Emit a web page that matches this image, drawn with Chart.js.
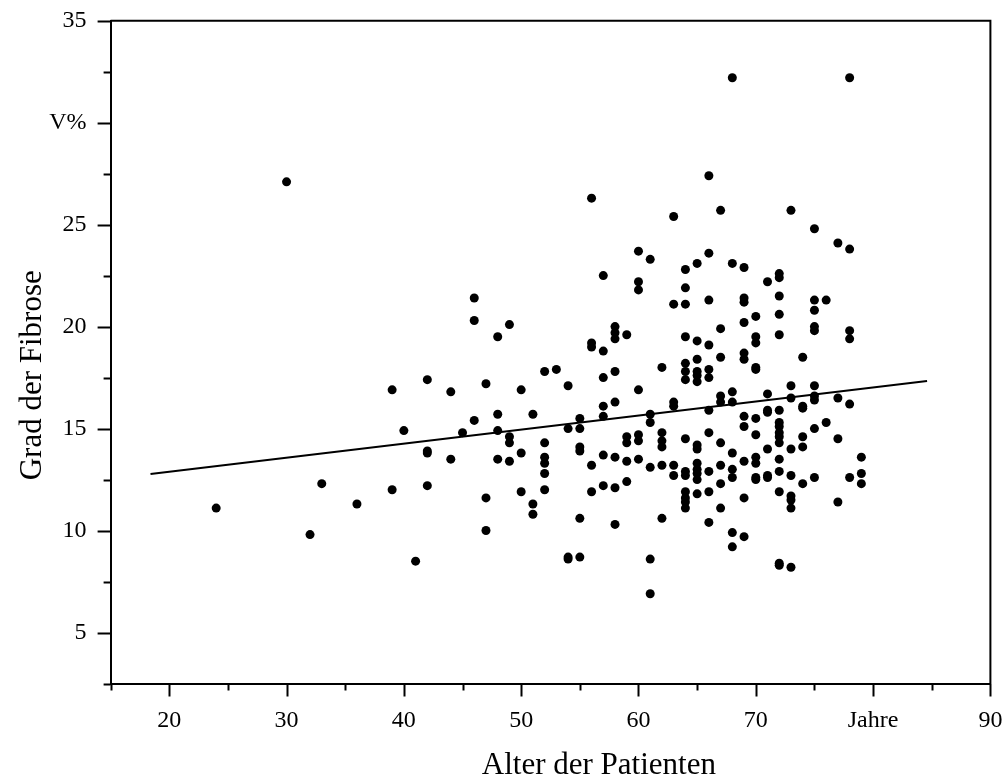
<!DOCTYPE html>
<html>
<head>
<meta charset="utf-8">
<script src="https://cdn.jsdelivr.net/npm/chart.js@4.4.1/dist/chart.umd.min.js"></script>
<style>
  html, body { margin: 0; padding: 0; background: #fff; }
</style>
</head>
<body>
<canvas id="myChart" width="1004" height="783"></canvas>
<script>
// Alter (Jahre) und Grad der Fibrose (V%), pro Patient
const alter = [
  24, 30, 32, 33, 36, 39, 39, 40, 41,
  42, 42, 42, 42, 44, 44, 45, 46, 46, 46,
  47, 47, 47, 48, 48, 48, 48, 49, 49, 49, 49,
  50, 50, 50, 51, 51, 51, 52, 52, 52, 52, 52, 52, 53,
  54, 54, 54, 54, 55, 55, 55, 55, 55, 55,
  56, 56, 56, 56, 56, 57, 57, 57, 57, 57, 57, 57,
  58, 58, 58, 58, 58, 58, 58, 58, 59, 59, 59, 59, 59,
  60, 60, 60, 60, 60, 60, 60, 61, 61, 61, 61, 61, 61,
  62, 62, 62, 62, 62, 62, 63, 63, 63, 63, 63, 63,
  64, 64, 64, 64, 64, 64, 64, 64, 64, 64, 64, 64, 64, 64,
  65, 65, 65, 65, 65, 65, 65, 65, 65, 65, 65, 65, 65,
  66, 66, 66, 66, 66, 66, 66, 66, 66, 66, 66,
  67, 67, 67, 67, 67, 67, 67, 67, 67,
  68, 68, 68, 68, 68, 68, 68, 68, 68,
  69, 69, 69, 69, 69, 69, 69, 69, 69, 69, 69,
  70, 70, 70, 70, 70, 70, 70, 70, 70, 70, 70,
  71, 71, 71, 71, 71, 71, 71,
  72, 72, 72, 72, 72, 72, 72, 72, 72, 72, 72, 72, 72, 72, 72, 72,
  73, 73, 73, 73, 73, 73, 73, 73, 73,
  74, 74, 74, 74, 74, 74,
  75, 75, 75, 75, 75, 75, 75, 75, 75, 75,
  76, 76, 77, 77, 77, 77,
  78, 78, 78, 78, 78, 78, 79, 79, 79
];
const fibrose = [
  11.1, 27.1, 9.8, 12.3, 11.3, 16.9, 12.0, 14.9, 8.5,
  17.4, 13.9, 13.8, 12.2, 16.8, 13.5, 14.8, 21.4, 20.3, 15.4,
  17.2, 11.6, 10.0, 19.5, 15.7, 14.9, 13.5, 20.1, 14.6, 14.3, 13.4,
  16.9, 13.8, 11.9, 15.7, 11.3, 10.8, 17.8, 14.3, 13.6, 13.3, 12.8, 12.0, 17.9,
  17.1, 15.0, 8.7, 8.6, 15.5, 15.0, 14.1, 13.9, 10.6, 8.7,
  26.3, 19.2, 19.0, 13.2, 11.9, 22.5, 18.8, 17.5, 16.1, 15.6, 13.7, 12.2,
  20.0, 19.7, 19.4, 17.8, 16.3, 13.6, 12.1, 10.3, 19.6, 14.6, 14.3, 13.4, 12.4,
  23.7, 22.2, 21.8, 16.9, 14.7, 14.4, 13.5, 23.3, 15.7, 15.3, 13.1, 8.6, 6.9,
  18.0, 14.8, 14.4, 14.1, 13.2, 10.6, 25.4, 21.1, 16.3, 16.1, 13.2, 12.7,
  22.8, 21.9, 21.1, 19.5, 18.2, 17.8, 17.4, 14.5, 12.9, 12.7, 11.9, 11.6, 11.4, 11.1,
  23.1, 19.3, 18.4, 17.8, 17.6, 17.3, 14.2, 14.0, 13.3, 13.0, 12.8, 12.5, 11.8,
  27.4, 23.6, 21.3, 19.1, 17.9, 17.5, 15.9, 14.8, 12.9, 11.9, 10.4,
  25.7, 19.9, 18.5, 16.6, 16.3, 14.3, 13.2, 12.3, 11.1,
  32.2, 23.1, 16.8, 16.3, 13.8, 13.0, 12.6, 9.9, 9.2,
  22.9, 21.4, 21.2, 20.2, 18.7, 18.4, 15.6, 15.1, 13.4, 11.6, 9.7,
  20.5, 19.5, 19.2, 18.0, 17.9, 15.5, 14.7, 13.6, 13.3, 12.6, 12.5,
  22.2, 16.7, 15.9, 15.8, 14.0, 12.7, 12.6,
  22.6, 22.4, 21.5, 20.6, 19.6, 15.9, 15.3, 15.1, 14.8, 14.6, 14.3, 13.5, 12.9, 11.9, 8.4, 8.3,
  25.7, 17.1, 16.5, 14.0, 12.7, 11.7, 11.5, 11.1, 8.2,
  18.5, 16.1, 16.0, 14.6, 14.1, 12.3,
  24.8, 21.3, 20.8, 20.0, 19.8, 17.1, 16.6, 16.4, 15.0, 12.6,
  21.3, 15.3, 24.1, 16.5, 14.5, 11.4,
  32.2, 23.8, 19.8, 19.4, 16.2, 12.6, 13.6, 12.8, 12.3
];

// Regressionsgerade (Endpunkte)
const regAlter = [18.4, 84.6];
const regGrad = [12.77, 17.33];

// Achsenbeschriftungen
const xTickText = {20: '20', 30: '30', 40: '40', 50: '50', 60: '60', 70: '70', 80: 'Jahre', 90: '90'};
const yTickText = {5: '5', 10: '10', 15: '15', 20: '20', 25: '25', 30: 'V%', 35: '35'};
const xTitle = 'Alter der Patienten';
const yTitle = 'Grad der Fibrose';

const serif = 'Liberation Serif';

// Ticks (lang = beschriftet, kurz = Zwischenstrich), Rahmen oben/rechts, Achsentitel
const tickPlugin = {
  id: 'ticksAndFrame',
  afterDraw(chart) {
    const c = chart.ctx;
    const area = chart.chartArea;
    c.save();
    c.strokeStyle = '#000';
    c.lineWidth = 2;
    const xs = chart.scales.x;
    xs.ticks.forEach(t => {
      const px = Math.round(xs.getPixelForValue(t.value)) + 0.5;
      const len = (t.value % 10 === 0) ? 13 : 7;
      c.beginPath();
      c.moveTo(px, area.bottom);
      c.lineTo(px, area.bottom + len);
      c.stroke();
    });
    const ys = chart.scales.y;
    ys.ticks.forEach(t => {
      const py = Math.round(ys.getPixelForValue(t.value)) + 0.5;
      const len = (t.value % 5 === 0) ? 13 : 7;
      c.beginPath();
      c.moveTo(area.left, py);
      c.lineTo(area.left - len, py);
      c.stroke();
    });
    c.beginPath();
    c.moveTo(area.left, area.top);
    c.lineTo(area.right, area.top);
    c.lineTo(area.right, area.bottom);
    c.stroke();

    // Achsentitel
    c.fillStyle = '#000';
    c.font = '31px "' + serif + '"';
    c.textAlign = 'center';
    c.textBaseline = 'middle';
    c.fillText(xTitle, area.left + area.width * 0.555, area.bottom + 82);
    c.translate(area.left - 78, area.top + area.height * 0.535);
    c.rotate(-Math.PI / 2);
    c.fillText(yTitle, 0, 0);
    c.restore();
  }
};

let points = alter.map((a, i) => ({x: a, y: fibrose[i]}));
let regLine = regAlter.map((a, i) => ({x: a, y: regGrad[i]}));

const ctx = document.getElementById('myChart').getContext('2d');
const myChart = new Chart(ctx, {
  type: 'scatter',
  data: {
    datasets: [
      {
        label: 'Patienten',
        data: points,
        backgroundColor: '#000',
        borderWidth: 0,
        pointRadius: 4.5,
        pointHoverRadius: 4.5
      },
      {
        label: 'Regression',
        data: regLine,
        showLine: true,
        borderColor: '#000',
        borderWidth: 2,
        pointRadius: 0
      }
    ]
  },
  options: {
    responsive: false,
    animation: false,
    layout: { padding: { top: 20.7, right: 13.6, left: 0, bottom: 0 } },
    plugins: {
      legend: { display: false },
      tooltip: { enabled: false }
    },
    scales: {
      x: {
        type: 'linear',
        min: 15,
        max: 90,
        afterFit: s => { s.height = 99.5; s.paddingLeft = 0; s.paddingRight = 0; },
        ticks: {
          stepSize: 5,
          autoSkip: false,
          maxRotation: 0,
          padding: 10,
          color: '#000',
          font: { family: serif, size: 24 },
          callback: v => xTickText[v] || ''
        },
        grid: { drawOnChartArea: false, tickLength: 13, tickColor: 'rgba(0,0,0,0)' },
        border: { color: '#000', width: 2 }
      },
      y: {
        min: 2.5,
        max: 35,
        afterFit: s => { s.width = 110.6; s.paddingTop = 0; s.paddingBottom = 0; },
        ticks: {
          stepSize: 2.5,
          autoSkip: false,
          padding: 11,
          color: '#000',
          font: { family: serif, size: 24 },
          callback: v => yTickText[v] || ''
        },
        grid: { drawOnChartArea: false, tickLength: 13, tickColor: 'rgba(0,0,0,0)' },
        border: { color: '#000', width: 2 }
      }
    }
  },
  plugins: [tickPlugin]
});
</script>
</body>
</html>
